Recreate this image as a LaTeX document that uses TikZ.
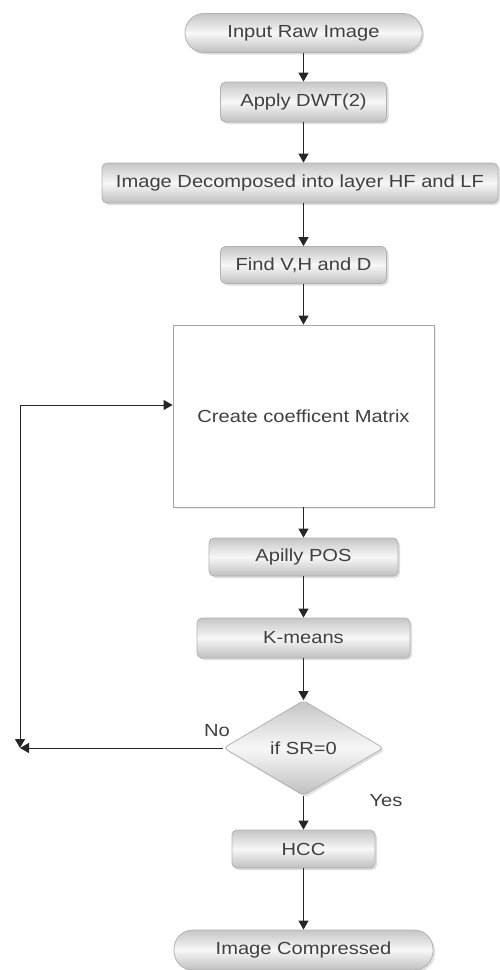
\documentclass[tikz,border=0pt]{standalone}
\usepackage{fontspec}
\setmainfont{Liberation Sans}[FakeStretch=1.15]
\usetikzlibrary{arrows.meta,shapes.geometric,shadows}
\begin{document}
\begin{tikzpicture}[x=1pt,y=-1pt,
  font=\fontsize{17.5}{20}\selectfont, text=black!75,
  base/.style={draw=gray!60, line width=0.8pt, top color=gray!45, bottom color=gray!50, middle color=gray!6,
    drop shadow={opacity=0.25, shadow xshift=2pt, shadow yshift=-2pt}, inner sep=0pt, align=center},
  boxn/.style={base, rectangle, rounded corners=5pt},
  term/.style={base, rectangle, rounded corners=19pt},
  decn/.style={base, diamond, rounded corners=4pt},
  arr/.style={draw=black!85, line width=1pt, -{Triangle[length=9pt,width=10pt]}},
  dbl/.style={draw=black!85, line width=1pt, {Triangle[length=9pt,width=10pt]}-{Triangle[length=9pt,width=10pt]}},
  lbl/.style={inner sep=0pt}
]
\useasboundingbox (0,0) rectangle (500,970);
\node[term, minimum width=237pt, minimum height=39pt] (in) at (303.5,33) {Input Raw Image};
\node[boxn, minimum width=166pt, minimum height=40pt] (dwt) at (303.5,102) {Apply DWT(2)};
\node[boxn, minimum width=396pt, minimum height=40pt] (dec) at (300,183) {Image Decomposed into layer HF and LF};
\node[boxn, minimum width=166pt, minimum height=37pt] (vhd) at (303.5,265) {Find V,H and D};
\node[draw=gray!70, line width=0.9pt, fill=white, minimum width=261pt, minimum height=182pt,
  drop shadow={opacity=0.12, shadow xshift=2pt, shadow yshift=-2pt}] (cm) at (303.5,416) {Create coefficent Matrix};
\node[boxn, minimum width=189pt, minimum height=38pt] (pos) at (303.5,557) {Apilly POS};
\node[boxn, minimum width=213pt, minimum height=40pt] (km) at (303.5,638) {K-means};
\node[decn, minimum width=160pt, minimum height=95pt] (sr) at (303.5,748) {if SR=0};
\node[boxn, minimum width=143pt, minimum height=38pt] (hcc) at (303.5,849) {HCC};
\node[term, minimum width=259pt, minimum height=40pt] (out) at (303.5,950) {Image Compressed};
\node[lbl] (no) at (217,731) {No};
\node[lbl] (yes) at (386,801) {Yes};
\draw[arr] (in) -- (dwt);
\draw[arr] (dwt) -- (dwt |- dec.north);
\draw[arr] (dec.south -| vhd) -- (vhd);
\draw[arr] (vhd) -- (cm);
\draw[arr] (cm) -- (pos);
\draw[arr] (pos) -- (km);
\draw[arr] (km) -- (sr);
\draw[arr] (sr) -- (hcc);
\draw[arr] (hcc) -- (out);
\coordinate (fb) at (20,748);
\coordinate (lt) at (20,405);
\draw[arr] (sr.west) -- (fb);
\draw[dbl] (fb) -- (lt) -- (lt -| cm.west);
\end{tikzpicture}
\end{document}
